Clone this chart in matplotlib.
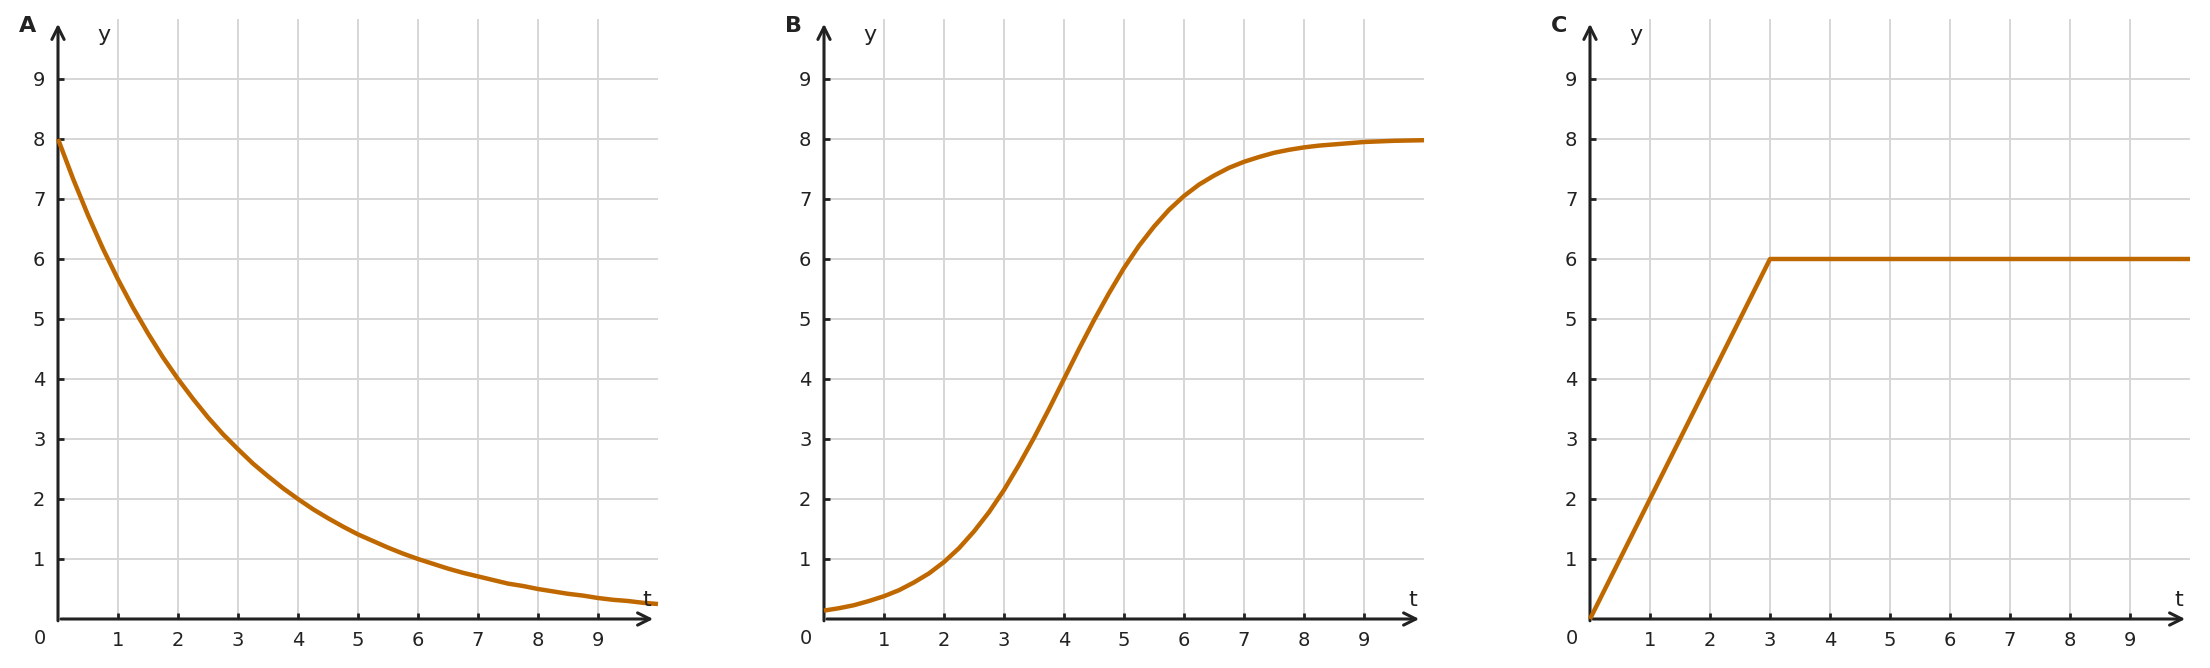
import matplotlib
matplotlib.use("Agg")
import matplotlib.pyplot as plt

# ---- data ----
panel_labels = ["A", "B", "C"]
ticks = [1, 2, 3, 4, 5, 6, 7, 8, 9]

t_A = [0, 0.25, 0.5, 0.75, 1, 1.25, 1.5, 1.75, 2, 2.25, 2.5, 2.75, 3, 3.25, 3.5, 3.75,
       4, 4.25, 4.5, 4.75, 5, 5.25, 5.5, 5.75, 6, 6.25, 6.5, 6.75, 7, 7.25, 7.5, 7.75,
       8, 8.25, 8.5, 8.75, 9, 9.25, 9.5, 9.75, 10]
y_A = [8.00, 7.34, 6.73, 6.17, 5.66, 5.19, 4.76, 4.36, 4.00, 3.67, 3.36, 3.08, 2.83,
       2.59, 2.38, 2.18, 2.00, 1.83, 1.68, 1.54, 1.41, 1.30, 1.19, 1.09, 1.00, 0.92,
       0.84, 0.77, 0.71, 0.65, 0.59, 0.55, 0.50, 0.46, 0.42, 0.39, 0.35, 0.32, 0.30,
       0.27, 0.25]

t_B = t_A
y_B = [0.14, 0.18, 0.23, 0.30, 0.38, 0.48, 0.61, 0.76, 0.95, 1.18, 1.46, 1.78, 2.15,
       2.57, 3.02, 3.50, 4.00, 4.50, 4.98, 5.43, 5.85, 6.22, 6.54, 6.82, 7.05, 7.24,
       7.39, 7.52, 7.62, 7.70, 7.77, 7.82, 7.86, 7.89, 7.91, 7.93, 7.95, 7.96, 7.97,
       7.975, 7.98]

t_C = [0, 3, 10]
y_C = [0, 6, 6]

series = [(t_A, y_A), (t_B, y_B), (t_C, y_C)]

# ---- style ----
CURVE = "#c06800"
AXC = "#222222"
GRID = "#d6d6d6"
TXT = "#222222"

W, H = 2210, 668
fig = plt.figure(figsize=(W / 100, H / 100), dpi=100)

lefts = [58, 824, 1590]
bottom_px = 668 - 619
size_px = 600

for i, (lab, (tx, ty)) in enumerate(zip(panel_labels, series)):
    ax = fig.add_axes([lefts[i] / W, bottom_px / H, size_px / W, size_px / H])
    ax.set_xlim(0, 10)
    ax.set_ylim(0, 10)
    for s in ax.spines.values():
        s.set_visible(False)
    ax.set_xticks(ticks)
    ax.set_yticks(ticks)
    ax.tick_params(direction="in", length=4, width=2, color=AXC,
                   labelsize=14, labelcolor=TXT, pad=9)
    ax.grid(True, color=GRID, lw=1.4, zorder=0)
    ax.set_axisbelow(True)

    # axes with arrows
    ax.annotate("", xy=(0, 9.92), xytext=(0, -0.03),
                arrowprops=dict(arrowstyle="->", lw=2.2, color=AXC,
                                mutation_scale=22, shrinkA=0, shrinkB=0),
                annotation_clip=False, zorder=2)
    ax.annotate("", xy=(9.92, 0), xytext=(0.05, 0),
                arrowprops=dict(arrowstyle="->", lw=2.2, color=AXC,
                                mutation_scale=22, shrinkA=0, shrinkB=0),
                annotation_clip=False, zorder=2)

    ax.plot(tx, ty, color=CURVE, lw=3.2, zorder=3, clip_on=False,
            solid_capstyle="butt", solid_joinstyle="round")

    # corner zero label
    ax.annotate("0", xy=(0, 0), xytext=(-13, -14), textcoords="offset points",
                ha="center", va="center", fontsize=14, color=TXT,
                annotation_clip=False)
    # axis names
    ax.text(0.77, 9.63, "y", fontsize=16, color=TXT, ha="center", va="baseline")
    ax.text(9.82, 0.22, "t", fontsize=16, color=TXT, ha="center", va="baseline")
    # panel letter
    ax.annotate(lab, xy=(0, 10), xytext=(-22, -5), textcoords="offset points",
                ha="center", va="center", fontsize=16, fontweight="bold",
                color=TXT, annotation_clip=False)

fig.savefig("out.png", dpi=100)
